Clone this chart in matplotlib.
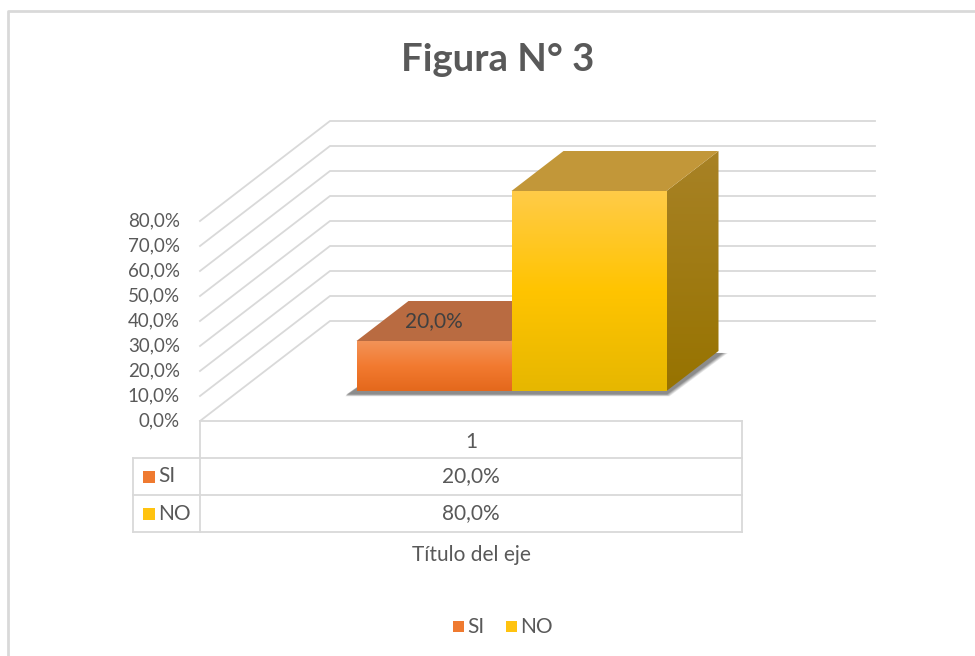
import numpy as np
import matplotlib
matplotlib.use("Agg")
import matplotlib.pyplot as plt
from matplotlib.patches import Polygon, Rectangle
from matplotlib.colors import LinearSegmentedColormap

plt.rcParams['font.family'] = ['Lato', 'DejaVu Sans']

# ---------------- data ----------------
title = "Figura N° 3"
categories = ["1"]
series = ["SI", "NO"]
values = [20.0, 80.0]
value_labels = ["20,0%", "80,0%"]
ytick_values = [0, 10, 20, 30, 40, 50, 60, 70, 80]
ytick_labels = ["0,0%", "10,0%", "20,0%", "30,0%", "40,0%",
                "50,0%", "60,0%", "70,0%", "80,0%"]
axis_title = "Título del eje"

# ---------------- style ----------------
TXT = "#595959"
GRID = "#D9D9D9"
W, H = 975, 656
FS = 15
FS_TICK = 13.5
front_colors = [["#F39358", "#F27A30", "#E4681C"],
                ["#FFCB48", "#FFC400", "#E6B700"]]
top_colors = ["#B96B41", "#C29739"]
side_colors = [["#A9572B", "#9A4A22"], ["#A88226", "#977300"]]
key_colors = ["#EF7A30", "#FFC310"]

# projection geometry (oblique 3-D)
WALL_W = 545.0      # width of wall along category axis (x units)
DX, DY = 130.0, 40.0  # offset of the back wall (x units, % units)
D0, D1 = 0.30, 0.70   # bar depth range
BAR_W = 155.0

def proj(x, d, v):
    return (x + DX * d, v + DY * d)

fig = plt.figure(figsize=(W / 100, H / 100), dpi=100)
ax = fig.add_axes([0, 0, 1, 1])
ax.axis("off")

# walls / gridlines
for v in ytick_values:
    p0, p1, p2 = proj(0, 0, v), proj(0, 1, v), proj(WALL_W, 1, v)
    ax.plot([p0[0], p1[0], p2[0]], [p0[1], p1[1], p2[1]],
            color=GRID, lw=1.3, zorder=1, solid_joinstyle="miter")

for v, lab in zip(ytick_values, ytick_labels):
    x, y = proj(-20, 0, v)
    ax.text(x, y, lab, ha="right", va="center", fontsize=FS_TICK, color=TXT)


def grad_fill(pts, colors, z):
    pts = np.array(pts)
    patch = Polygon(pts, closed=True, facecolor="none", edgecolor="none")
    ax.add_patch(patch)
    cmap = LinearSegmentedColormap.from_list("g", colors[::-1])
    grad = np.linspace(0, 1, 256).reshape(-1, 1)
    im = ax.imshow(grad, cmap=cmap, aspect="auto", origin="lower",
                   extent=(pts[:, 0].min(), pts[:, 0].max(),
                           pts[:, 1].min(), pts[:, 1].max()),
                   zorder=z, interpolation="bilinear")
    im.set_clip_path(patch)


# shadow beneath the bars
cx = WALL_W / 2
xl = cx - BAR_W
xr = cx + BAR_W * (len(values) - 1)
for k, a in zip(range(6), [0.10, 0.10, 0.12, 0.14, 0.16, 0.2]):
    e = 6 - k
    sh = [proj(xl - 6 + e * 0.3, D0 - 0.03 - e * 0.004, 0),
          proj(xr + 4 + e, D0 - 0.03 - e * 0.004, 0),
          proj(xr + 6 + e, D1 - 0.02, 0),
          proj(xl, D1, 0)]
    ax.add_patch(Polygon(sh, closed=True, facecolor="#404040",
                         edgecolor="none", alpha=a, zorder=2))

# bars
for i, v in enumerate(values):
    x0 = cx - BAR_W + i * BAR_W
    x1 = x0 + BAR_W
    front = [proj(x0, D0, 0), proj(x1, D0, 0), proj(x1, D0, v), proj(x0, D0, v)]
    top = [proj(x0, D0, v), proj(x1, D0, v), proj(x1, D1, v), proj(x0, D1, v)]
    side = [proj(x1, D0, 0), proj(x1, D1, 0), proj(x1, D1, v), proj(x1, D0, v)]
    z = 3 + i * 3
    grad_fill(side, side_colors[i], z)
    ax.add_patch(Polygon(top, closed=True, facecolor=top_colors[i],
                         edgecolor="none", zorder=z + 1))
    grad_fill(front, front_colors[i], z + 2)

# data label on the SI bar top
x0 = cx - BAR_W
lx, ly = proj(x0 + 0.33 * BAR_W, 0.5, values[0])
ax.text(lx, ly, value_labels[0], ha="center", va="center",
        fontsize=FS, color="#404040", zorder=20)

# axis limits: 1 x unit = 1 px, 1 % = 2.5 px, front-wall origin at (200, 421)
ax.set_xlim(-200, W - 200)
ax.set_ylim((421 - H) / 2.5, 421 / 2.5)

# ---------------- overlay: title, data table, legend ----------------
ov = fig.add_axes([0, 0, 1, 1])
ov.set_xlim(0, W)
ov.set_ylim(H, 0)
ov.axis("off")
ov.patch.set_alpha(0)

# chart border
ov.plot([8, 8, W + 5], [H + 5, 11, 11], color=GRID, lw=2)

ov.text(498, 60, title, ha="center", va="center", fontsize=27.5,
        fontweight="bold", color=TXT)

# data table
tl, tm, tr = 133, 200, 742
rows = [421, 458, 495, 532]
ov.plot([tm, tr], [rows[0], rows[0]], color=GRID, lw=1.3)
for y in rows[1:]:
    ov.plot([tl, tr], [y, y], color=GRID, lw=1.3)
ov.plot([tl, tl], [rows[1], rows[3]], color=GRID, lw=1.3)
ov.plot([tm, tm], [rows[0], rows[3]], color=GRID, lw=1.3)
ov.plot([tr, tr], [rows[0], rows[3]], color=GRID, lw=1.3)

midx = (tm + tr) / 2
ov.text(midx, (rows[0] + rows[1]) / 2 + 2, categories[0], ha="center",
        va="center", fontsize=FS, color=TXT)
for i, (s, lab) in enumerate(zip(series, value_labels)):
    yc = (rows[i + 1] + rows[i + 2]) / 2
    ov.add_patch(Rectangle((143, yc - 6), 12, 12, facecolor=key_colors[i],
                           edgecolor="none"))
    ov.text(158, yc, s, ha="left", va="center", fontsize=FS, color=TXT)
    ov.text(midx, yc, lab, ha="center", va="center", fontsize=FS, color=TXT)

ov.text(midx, 555, axis_title, ha="center", va="center", fontsize=FS,
        color=TXT)

# legend
lx0 = 453
for i, s in enumerate(series):
    ov.add_patch(Rectangle((lx0, 621), 11, 11, facecolor=key_colors[i],
                           edgecolor="none"))
    t = ov.text(lx0 + 14, 627, s, ha="left", va="center", fontsize=FS,
                color=TXT)
    lx0 += 53

fig.savefig("out.png", dpi=100)
